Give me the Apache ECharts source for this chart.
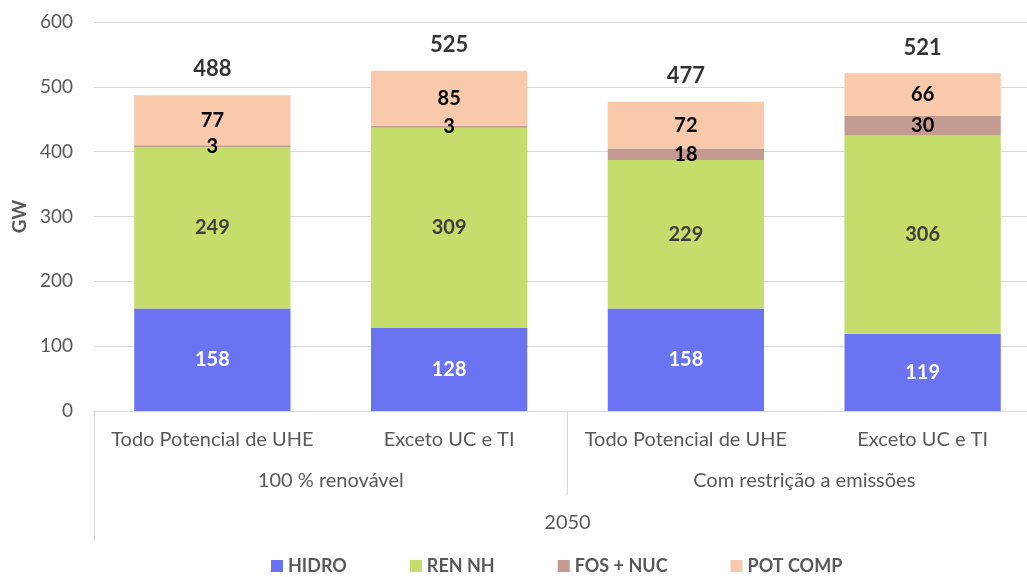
<!DOCTYPE html>
<html>
<head>
<meta charset="utf-8">
<script src="https://cdn.jsdelivr.net/npm/echarts@6/dist/echarts.min.js"></script>
<style>
  html, body { margin: 0; padding: 0; background: #fff; }
  #chart { width: 1027px; height: 577px; }
</style>
</head>
<body>
<div id="chart"></div>
<script>
// scenario categories (two levels + year)
var cenarios = ['Todo Potencial de UHE', 'Exceto UC e TI', 'Todo Potencial de UHE', 'Exceto UC e TI'];
var grupos = ['100 % renovável', 'Com restrição a emissões'];
var anos = ['2050'];

// GW per source
var hidro = [158, 128, 158, 119];
var renNH = [249, 309, 229, 306];
var fosNuc = [3, 3, 18, 30];
var potComp = [77, 85, 72, 66];
var totais = [488, 525, 477, 521];

var fonte = 'Lato, "Open Sans", sans-serif';
var cinza = '#595959';
var linha = '#d9d9d9';

var chart = echarts.init(document.getElementById('chart'));

function serie(nome, dados, cor, corTexto) {
    return {
        name: nome,
        type: 'bar',
        stack: 'total',
        barCategoryGap: '34%',
        data: dados,
        itemStyle: { color: cor },
        label: {
            show: true,
            position: 'inside',
            color: corTexto,
            fontFamily: fonte,
            fontWeight: 'bold',
            fontSize: 20
        }
    };
}

var option = {
    animation: false,
    textStyle: { fontFamily: fonte },
    grid: { left: 94, right: -14, top: 22, bottom: 166, outerBoundsMode: 'none', containLabel: false },
    legend: {
        bottom: -3,
        left: 266,
        itemWidth: 12,
        itemHeight: 12,
        itemGap: 63,
        icon: 'rect',
        textStyle: { color: cinza, fontSize: 18, fontWeight: 'bold', fontFamily: fonte },
        data: ['HIDRO', 'REN NH', 'FOS + NUC', 'POT COMP']
    },
    xAxis: [
        {
            type: 'category',
            data: cenarios,
            axisLine: { show: true, lineStyle: { color: linha } },
            axisTick: { show: false },
            axisLabel: { color: cinza, fontSize: 20, margin: 19, interval: 0 }
        },
        {
            type: 'category',
            data: grupos,
            position: 'bottom',
            axisLine: { show: false },
            axisTick: { show: true, length: 84, interval: 0, lineStyle: { color: linha } },
            axisLabel: { color: cinza, fontSize: 20, margin: 60, interval: 0 }
        },
        {
            type: 'category',
            data: anos,
            position: 'bottom',
            axisLine: { show: false },
            axisTick: { show: true, length: 129, interval: 0, lineStyle: { color: linha } },
            axisLabel: { color: cinza, fontSize: 20, margin: 102 }
        }
    ],
    yAxis: {
        type: 'value',
        min: 0,
        max: 600,
        interval: 100,
        name: 'GW',
        nameLocation: 'middle',
        nameGap: 64,
        nameTextStyle: { color: cinza, fontSize: 19, fontWeight: 'bold' },
        axisLine: { show: false },
        axisTick: { show: false },
        axisLabel: { color: cinza, fontSize: 19, margin: 21 },
        splitLine: { lineStyle: { color: linha } }
    },
    series: [
        serie('HIDRO', hidro, '#6a74f2', '#ffffff'),
        serie('REN NH', renNH, '#c4dd6b', '#404040'),
        serie('FOS + NUC', fosNuc, '#c49b91', '#000000'),
        serie('POT COMP', potComp, '#f8caab', '#000000'),
        {
            name: 'Total',
            type: 'scatter',
            data: totais,
            symbolSize: 1,
            itemStyle: { color: 'rgba(0,0,0,0)' },
            label: {
                show: true,
                position: 'top',
                distance: 14,
                color: '#000',
                fontFamily: fonte,
                fontWeight: 'bold',
                fontSize: 22
            },
            silent: true
        }
    ]
};

chart.setOption(option);
</script>
</body>
</html>
